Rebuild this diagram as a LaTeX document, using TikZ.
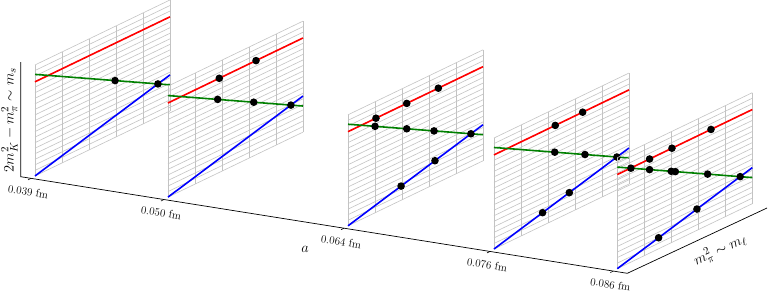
\documentclass[tikz,border=0pt]{standalone}
\usetikzlibrary{calc}
\definecolor{pRed}{RGB}{255,0,0}
\definecolor{pGreen}{RGB}{0,128,0}
\definecolor{pBlue}{RGB}{0,0,255}
\definecolor{pGrid}{RGB}{195,195,195}
\tikzset{
  gridln/.style={draw=pGrid, line width=0.6pt},
  msline/.style={draw=pRed, line width=1.6pt},
  trline/.style={draw=pGreen, line width=1.6pt},
  symline/.style={draw=pBlue, line width=1.6pt},
  ens/.style={fill=black},
  axisln/.style={draw=black, line width=0.7pt},
  tickln/.style={draw=black, line width=0.6pt},
  ticklbl/.style={font=\fontsize{11}{13}\selectfont, inner sep=1pt, rotate=-9},
  axlbl/.style={font=\fontsize{15.5}{18}\selectfont, inner sep=0pt},
}
% one lattice spacing: grid in the (m_l, m_s) plane, three lines, ensembles
\newcommand{\EnsPanel}[3]{%
  \begin{scope}[shift={($(#1)+(4,-2.4)$)}, x={(135pt,65pt)}, y={(0pt,111pt)}]
    \coordinate (#2) at (0,0);
    \foreach \k in {0,...,20} \draw[gridln] (0,\k/20) -- (1,\k/20);
    \foreach \k in {0,...,5} \draw[gridln] (\k/5,0) -- (\k/5,1);
    \draw[msline] (0,{vr(0)}) -- (1,{vr(1)});
    \draw[trline] (0,{vg(0)}) -- (1,{vg(1)});
    \draw[symline] (0,{vb(0)}) -- (1,{vb(1)});
    \foreach \u/\l in {#3} \fill[ens] (\u,{v\l(\u)}) circle (3.8pt);
  \end{scope}}

\begin{document}
\begin{tikzpicture}[x=1pt, y=-1pt,
   declare function={vr(\t)=0.848+0*\t; vg(\t)=0.915-0.68*\t; vb(\t)=0.325*\t;}]
  \useasboundingbox (0,0) rectangle (768,293);

  %====================== AXES ======================
  \coordinate (ztop) at (20.7,62);
  \coordinate (orig) at (20.7,176.7);
  \coordinate (aend) at (627.3,273.3);
  \coordinate (lend) at (767,208);
  \draw[axisln] (ztop) -- (orig) -- (aend) -- (lend);

  \coordinate (t039) at ($(orig)!0.0170!(aend)$);
  \coordinate (t050) at ($(orig)!0.2362!(aend)$);
  \coordinate (t064) at ($(orig)!0.5330!(aend)$);
  \coordinate (t076) at ($(orig)!0.7736!(aend)$);
  \coordinate (t086) at ($(orig)!0.9769!(aend)$);

  \foreach \t/\s in {t039/0.039, t050/0.050, t064/0.064, t076/0.076, t086/0.086}{
    \draw[tickln] (\t) -- ++(-3,1.5);
    \node[ticklbl, anchor=north] (l\t) at ($(\t)+(-2,8.3)$) {\s~fm};
  }

  \node[axlbl, rotate=90] (mslbl) at (9.5,120) {$2m_K^2-m_\pi^2\sim m_s$};
  \node[axlbl] (alpha) at (305,249) {$a$};
  \node[axlbl, rotate=25] (mllbl) at (720,250) {$m_\pi^2\sim m_\ell$};

  %====================== PANELS ======================
  \EnsPanel{t039}{p039}{0.593/g, 0.9104/g}
  \EnsPanel{t050}{p050}{0.38/r, 0.652/r, 0.368/g, 0.635/g, 0.9104/g}
  \EnsPanel{t064}{p064}{0.207/r, 0.435/r, 0.669/r, 0.2/g, 0.435/g, 0.637/g,
                        0.9104/g, 0.393/b, 0.644/b}
  \EnsPanel{t076}{p076}{0.454/r, 0.657/r, 0.45/g, 0.674/g, 0.9104/g,
                        0.36/b, 0.558/b}
  \EnsPanel{t086}{p086}{0.239/r, 0.405/r, 0.694/r, 0.101/g, 0.239/g, 0.4/g,
                        0.43/g, 0.669/g, 0.9104/g, 0.306/b, 0.59/b}

\end{tikzpicture}
\end{document}
